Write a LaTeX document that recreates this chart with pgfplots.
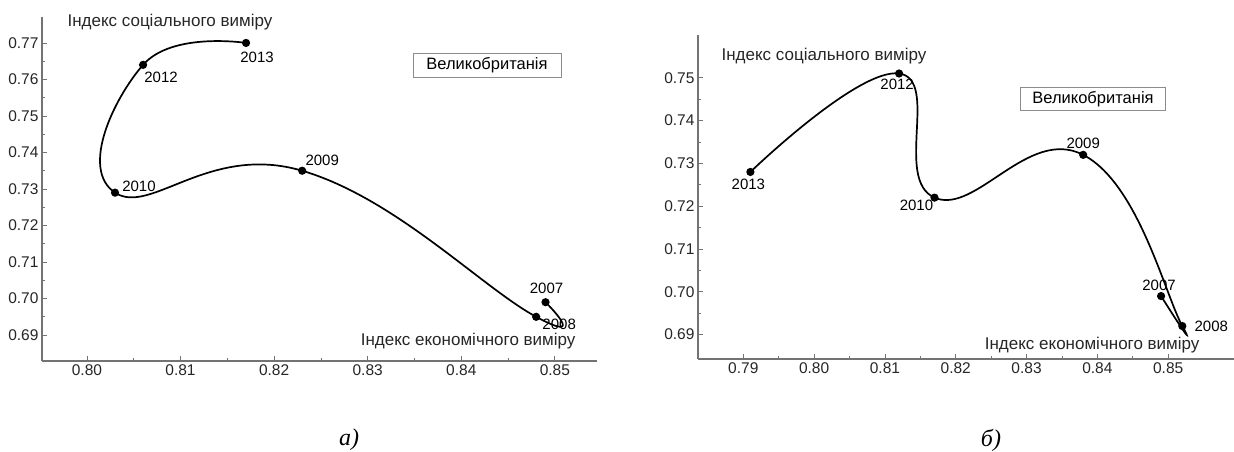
\documentclass[border=0pt]{standalone}
\usepackage{fontspec}
\setmainfont{Liberation Sans}
\newfontfamily\capfont{Liberation Serif}
\usepackage{pgfplots}
\pgfplotsset{compat=1.18}
\pgfplotsset{
  myax/.style={
    scale only axis,
    anchor=south west,
    axis lines=left,
    axis line style={-, draw=black!55, line width=1.4pt},
    tick style={black!55, line width=0.8pt},
    major tick length=5pt, minor tick length=3pt,
    tick align=inside,
    minor tick num=1,
    tick label style={font=\fontsize{15.5}{17}\selectfont, text=black!85},
    /pgf/number format/assume math mode=true,
    /pgf/number format/.cd, fixed, fixed zerofill, precision=2,
    /pgfplots/.cd,
    clip=false,
  },
  curve/.style={black, line width=1.7pt, smooth, tension=0.8, mark=*, mark size=3.2pt, mark options={solid, fill=black}},
}
\tikzset{yr/.style={font=\fontsize{15}{17}\selectfont}}
\begin{document}
\begin{tikzpicture}[x=1pt,y=1pt]
\path[use as bounding box] (0pt,0pt) rectangle (1234pt,452pt);
% ---------- a) ----------
\begin{axis}[myax, at={(42pt,91pt)}, width=555pt, height=344pt,
  xmin=0.7952, xmax=0.8545, ymin=0.6829, ymax=0.7771,
  xtick={0.80,0.81,0.82,0.83,0.84,0.85},
  ytick={0.69,0.70,0.71,0.72,0.73,0.74,0.75,0.76,0.77}]
\addplot[curve] coordinates {
 (0.849,0.699) (0.848,0.695) (0.823,0.735) (0.803,0.729) (0.806,0.764) (0.817,0.770)};
\node[yr] at (axis cs:0.817,0.770) [xshift=11pt, yshift=-14pt] {2013};
\node[yr] at (axis cs:0.806,0.764) [xshift=18pt, yshift=-12pt] {2012};
\node[yr] at (axis cs:0.803,0.729) [xshift=24pt, yshift=6pt] {2010};
\node[yr] at (axis cs:0.823,0.735) [xshift=20pt, yshift=10pt] {2009};
\node[yr] at (axis cs:0.849,0.699) [xshift=1pt, yshift=14pt] {2007};
\node[yr] at (axis cs:0.848,0.695) [xshift=23pt, yshift=-8pt] {2008};
\end{axis}
% ---------- b) ----------
\begin{axis}[myax, at={(698pt,93pt)}, width=536pt, height=324pt,
  xmin=0.7836, xmax=0.8593, ymin=0.6843, ymax=0.760,
  xtick={0.79,0.80,0.81,0.82,0.83,0.84,0.85},
  ytick={0.69,0.70,0.71,0.72,0.73,0.74,0.75}]
\addplot[curve] coordinates {
 (0.849,0.699) (0.852,0.692) (0.838,0.732) (0.817,0.722) (0.812,0.751) (0.791,0.728)};
\node[yr] at (axis cs:0.812,0.751) [xshift=-2pt, yshift=-11pt] {2012};
\node[yr] at (axis cs:0.791,0.728) [xshift=-2pt, yshift=-12pt] {2013};
\node[yr] at (axis cs:0.817,0.722) [xshift=-18pt, yshift=-8pt] {2010};
\node[yr] at (axis cs:0.838,0.732) [xshift=0pt, yshift=11pt] {2009};
\node[yr] at (axis cs:0.849,0.699) [xshift=-2pt, yshift=11pt] {2007};
\node[yr] at (axis cs:0.852,0.692) [xshift=29pt, yshift=0pt] {2008};
\end{axis}
% text labels
\node[anchor=west, font=\fontsize{17}{19}\selectfont, text=black!85] at (64pt,430pt) {Індекс соціального виміру};
\node[anchor=east, font=\fontsize{17}{19}\selectfont, text=black!85] at (579pt,111pt) {Індекс економічного виміру};
\node[draw=black!45, line width=0.8pt, minimum height=24pt, minimum width=148pt, font=\fontsize{16.5}{18}\selectfont] at (487pt,387pt) {Великобританія};
\node[anchor=west, font=\fontsize{17}{19}\selectfont, text=black!85] at (718pt,396pt) {Індекс соціального виміру};
\node[anchor=east, font=\fontsize{17}{19}\selectfont, text=black!85] at (1203pt,107pt) {Індекс економічного виміру};
\node[draw=black!45, line width=0.8pt, minimum height=22pt, minimum width=145pt, font=\fontsize{16.5}{18}\selectfont] at (1093pt,353pt) {Великобританія};
\node[font=\capfont\itshape\fontsize{24}{27}\selectfont] at (349pt,12pt) {а)};
\node[font=\capfont\itshape\fontsize{24}{27}\selectfont] at (991pt,12pt) {б)};
\end{tikzpicture}
\end{document}
